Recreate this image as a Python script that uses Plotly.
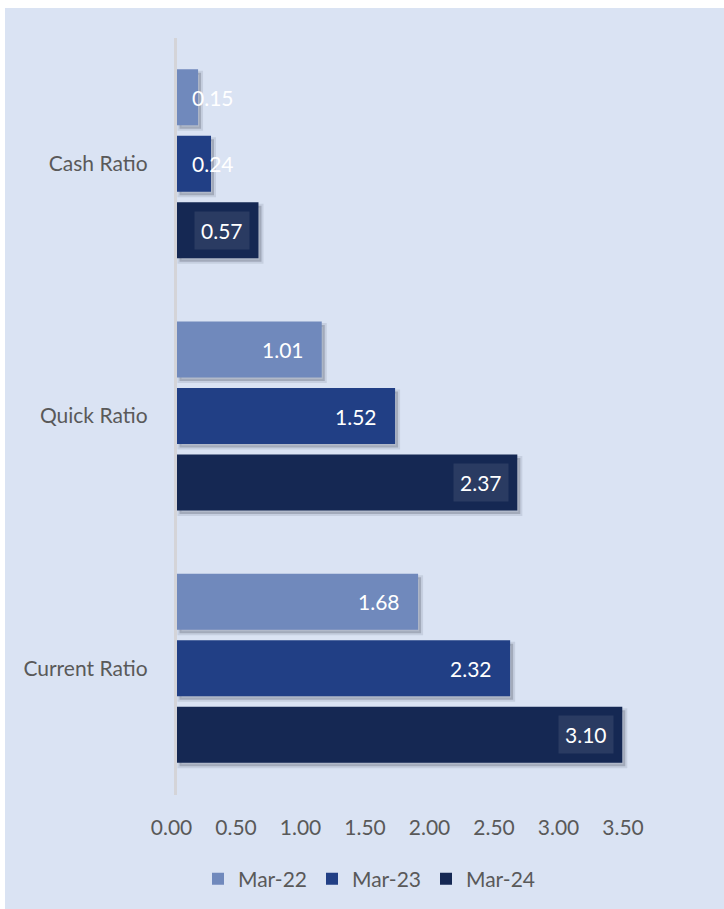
import plotly.graph_objects as go

# Liquidity ratios by reporting date
categories = ["Cash Ratio", "Quick Ratio", "Current Ratio"]
periods = ["Mar-22", "Mar-23", "Mar-24"]
mar22 = [0.15, 1.01, 1.68]
mar23 = [0.24, 1.52, 2.32]
mar24 = [0.57, 2.37, 3.10]
series_values = [mar22, mar23, mar24]
tick_values = [0.0, 0.5, 1.0, 1.5, 2.0, 2.5, 3.0, 3.5]

colors = ["#7089bc", "#213f85", "#152853"]
label_boxes = [None, None, "rgba(255,255,255,0.09)"]
text_grey = "#595959"
font_family = "Lato, Calibri, Carlito, sans-serif"

W, H = 724, 909
left_pad, top_pad = 5, 8
paper_w, paper_h = W - left_pad, H - top_pad


def px_x(p):
    return (p - left_pad) / paper_w


def px_y(p):
    return 1 - (p - top_pad) / paper_h


# pixel layout of the plotting region
plot_left, plot_right = 176.5, 700
plot_top, plot_bottom = 37.5, 794.5
px_per_unit = 143.8          # bar scale
tick_origin, tick_px_per_unit = 171.5, 129.0   # tick-label scale

cat_px = (plot_bottom - plot_top) / len(categories)
slot = 66.5 / cat_px          # spacing between bars in a group (category units)
bar_w = 56.0 / cat_px         # bar thickness (category units)
shadow_dy = 3.5 / cat_px
shadow_dx = 3.0 / px_per_unit

fig = go.Figure()

# soft drop shadows under each bar
for i, vals in enumerate(series_values):
    off = (i - 1) * slot - bar_w / 2
    fig.add_trace(go.Bar(
        y=categories, x=vals, orientation="h", base=shadow_dx,
        offset=off + shadow_dy, width=bar_w,
        marker=dict(color="rgba(30,35,55,0.22)",
                    line=dict(width=4, color="rgba(30,35,55,0.10)")),
        showlegend=False, hoverinfo="skip",
    ))

for i, (name, vals, col) in enumerate(zip(periods, series_values, colors)):
    off = (i - 1) * slot - bar_w / 2
    fig.add_trace(go.Bar(
        name=name, y=categories, x=vals, orientation="h",
        offset=off, width=bar_w,
        marker=dict(color=col, line=dict(width=0)),
        hoverinfo="x+name",
    ))

# empty trace so the tick-label axis gets drawn
fig.add_trace(go.Scatter(x=[], y=[], xaxis="x2", yaxis="y",
                         showlegend=False, hoverinfo="skip"))

# value labels
annotations = []
for i, (vals, box) in enumerate(zip(series_values, label_boxes)):
    yshift = (1 - i) * 66.5
    for cat, v in zip(categories, vals):
        a = dict(
            xref="x", yref="y", y=cat, text=f"{v:.2f}", showarrow=False,
            font=dict(family=font_family, size=21, color="white"),
            yshift=yshift,
        )
        if v * px_per_unit > 75:
            a.update(x=v, xanchor="right", xshift=-8 if box else -16)
        else:
            a.update(x=0, xanchor="left", xshift=13)
        if box:
            a.update(bgcolor=box, borderpad=6)
        annotations.append(a)

fig.update_layout(
    width=W, height=H,
    margin=dict(l=left_pad, r=0, t=top_pad, b=0, pad=0),
    paper_bgcolor="white",
    plot_bgcolor="rgba(0,0,0,0)",
    barmode="overlay",
    font=dict(family=font_family, size=21, color=text_grey),
    shapes=[dict(type="rect", xref="paper", yref="paper", x0=0, x1=1,
                 y0=0, y1=1, fillcolor="#dae3f3", line=dict(width=0),
                 layer="below")],
    xaxis=dict(
        domain=[px_x(plot_left), px_x(plot_right)],
        range=[0, (plot_right - plot_left) / px_per_unit],
        showgrid=False, zeroline=False, showline=False,
        showticklabels=False, ticks="", fixedrange=True,
    ),
    xaxis2=dict(
        domain=[px_x(150), px_x(plot_right)],
        range=[(150 - tick_origin) / tick_px_per_unit,
               (plot_right - tick_origin) / tick_px_per_unit],
        anchor="y", side="bottom",
        tickmode="array", tickvals=tick_values,
        ticktext=[f"{t:.2f}" for t in tick_values],
        showgrid=False, zeroline=False, showline=False, ticks="",
        ticklabelstandoff=18,
        tickfont=dict(family=font_family, size=21, color=text_grey),
    ),
    yaxis=dict(
        domain=[px_y(plot_bottom), px_y(plot_top)],
        categoryorder="array", categoryarray=categories,
        range=[len(categories) - 0.5, -0.5],
        showgrid=False, zeroline=False,
        showline=True, linecolor="#d4d4d8", linewidth=2.5,
        ticks="", ticklabelstandoff=22,
        tickfont=dict(family=font_family, size=21, color=text_grey),
    ),
    legend=dict(
        orientation="h", x=px_x(369), xanchor="center",
        y=px_y(879), yanchor="middle",
        font=dict(family=font_family, size=21, color=text_grey),
        bgcolor="rgba(0,0,0,0)", itemclick=False,
    ),
    annotations=annotations,
    showlegend=True,
)

fig.write_html("out.html")
